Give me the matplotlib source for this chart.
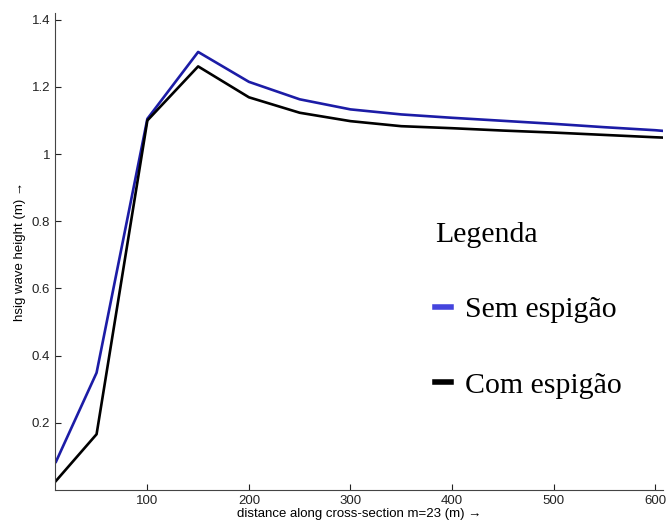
import matplotlib.pyplot as plt
from matplotlib.lines import Line2D

# distance along cross-section (m)
dist = [10, 50, 100, 150, 200, 250, 300, 350, 400, 450, 500, 550, 600, 608]
# significant wave height (m)
hs_sem = [0.084, 0.349, 1.105, 1.304, 1.215, 1.163, 1.133, 1.118, 1.108, 1.099, 1.090, 1.080, 1.071, 1.069]
hs_com = [0.027, 0.166, 1.100, 1.261, 1.169, 1.123, 1.098, 1.083, 1.077, 1.070, 1.064, 1.057, 1.050, 1.049]
labels = ['Sem espigão', 'Com espigão']

plt.rcParams['font.family'] = ['Liberation Sans', 'DejaVu Sans']

fig = plt.figure(figsize=(6.7, 5.3), dpi=100)
ax = fig.add_axes([0.082, 0.0755, 0.908, 0.90])

ax.plot(dist, hs_sem, color='#1c1ca6', lw=1.9)
ax.plot(dist, hs_com, color='black', lw=1.9)

ax.set_xlim(9, 608)
ax.set_ylim(0.0, 1.42)
ax.set_xticks([100, 200, 300, 400, 500, 600])
ax.set_yticks([0.2, 0.4, 0.6, 0.8, 1.0, 1.2, 1.4])
ax.set_yticklabels(['0.2', '0.4', '0.6', '0.8', '1', '1.2', '1.4'])
ax.tick_params(direction='in', length=4, labelsize=9.5, colors='#222222')
for s in ['top', 'right']:
    ax.spines[s].set_visible(False)
for s in ['left', 'bottom']:
    ax.spines[s].set_color('#444444')

ax.set_xlabel('distance along cross-section m=23 (m) →', fontsize=9.5, labelpad=1)
ax.set_ylabel('hsig wave height (m) →', fontsize=9.5, labelpad=4)

handles = [Line2D([], [], color='#4444dd', lw=4),
           Line2D([], [], color='black', lw=4)]
leg = ax.legend(handles, labels, title='Legenda', loc='upper left',
                bbox_to_anchor=(0.58, 0.618), frameon=False,
                prop={'family': 'Liberation Serif', 'size': 21.5},
                handlelength=0.55, handletextpad=0.45, labelspacing=1.62)
leg.get_title().set_fontfamily('Liberation Serif')
leg.get_title().set_fontsize(21.5)
leg._legend_box.align = 'left'

fig.savefig('out.png')
